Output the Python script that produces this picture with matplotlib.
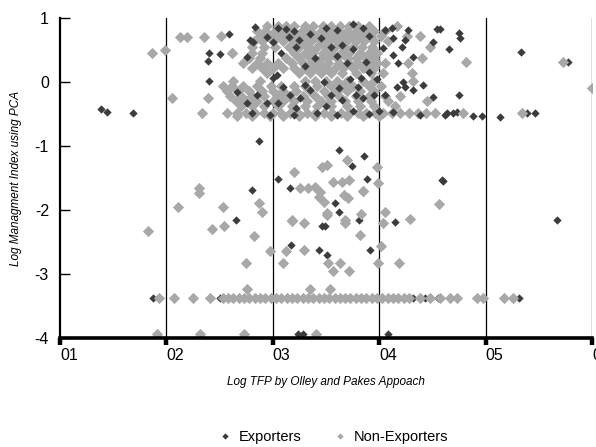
import matplotlib
matplotlib.use('Agg')
import matplotlib.pyplot as plt
from matplotlib.lines import Line2D

# Colours and fonts
#-----------------------------------------------------------------------------#
col_exp = '#3c3c3c'
col_non = '#a8a8a8'
plt.rcParams['font.family'] = ['Liberation Sans', 'DejaVu Sans']
plt.rcParams['axes.unicode_minus'] = False

# Exporters (sparse points)
#-----------------------------------------------------------------------------#
exp_x = [1.385, 1.44, 1.69,
         2.83, 2.59, 2.81, 2.40, 2.50, 2.39, 2.40, 2.87,
         3.05, 3.16, 2.80, 2.65, 3.17, 1.87, 2.50, 3.24,
         4.60, 3.58, 3.62, 3.81, 3.46, 3.49, 4.15, 5.67, 3.43, 3.51, 3.91,
         4.32, 4.43, 4.55, 5.31, 3.28, 4.08,
         3.62, 3.86, 3.74, 3.89, 4.59]
exp_y = [-0.42, -0.47, -0.48,
         0.86, 0.75, 0.63, 0.45, 0.44, 0.33, 0.02, -0.92,
         -1.52, -1.66, -1.69, -2.16, -2.55, -3.38, -3.38, -3.94,
         -1.55, -1.89, -2.03, -2.16, -2.25, -2.25, -2.19, -2.16, -2.63, -2.70, -2.63,
         -3.38, -3.38, -3.38, -3.38, -3.94, -3.94,
         -1.06, -1.16, -1.31, -1.52, -1.53]

# Exporters (dense cluster)
#-----------------------------------------------------------------------------#
exp_dx = [4.27, 4.54, 4.57, 4.75, 4.76, 4.66, 5.33, 5.77, 4.75, 4.51, 4.21,
          4.32, 4.18, 4.22, 4.17, 4.32, 4.41, 4.51, 4.05, 4.64, 4.69, 4.88,
          4.97, 5.14, 5.39, 5.46, 4.05, 4.12, 4.24, 4.13, 4.04, 4.13, 4.24,
          4.73, 4.62, 4.13, 4.38,
          3.05, 3.12, 3.20, 3.15, 3.25, 3.22, 3.35, 3.50, 3.60, 3.75, 3.85,
          3.55, 3.65, 3.75, 3.00, 3.08, 3.40, 3.60, 3.88, 3.90, 3.83, 3.73,
          3.80, 3.98, 3.04, 3.45, 3.90, 3.70, 3.30, 2.95,
          3.16, 3.26, 3.35, 3.55, 3.65, 3.78, 3.85, 3.95, 3.05, 3.22, 3.50,
          3.42, 3.60, 2.97, 3.75, 3.90, 3.30, 3.10, 2.85, 2.66, 2.76, 2.95,
          2.80, 3.00, 3.48, 3.62, 3.20, 4.00, 2.79, 2.76]
exp_dy = [0.81, 0.83, 0.83, 0.77, 0.69, 0.52, 0.47, 0.31, -0.20, 0.63, 0.55,
          0.39, 0.30, 0.00, -0.08, -0.12, -0.05, -0.23, -0.20, -0.48, -0.48, -0.53,
          -0.53, -0.55, -0.48, -0.48, 0.81, 0.84, 0.66, 0.69, 0.53, 0.42, -0.08,
          -0.47, -0.52, -0.47, -0.52,
          0.85, 0.83, 0.80, 0.70, 0.65, 0.55, 0.75, 0.84, 0.82, 0.90, 0.84,
          0.55, 0.58, 0.52, 0.62, 0.45, 0.38, 0.40, 0.31, 0.16, 0.07, 0.05,
          -0.08, 0.05, 0.11, 0.68, 0.72, 0.30, 0.25, 0.70,
          -0.20, -0.25, -0.13, -0.20, -0.28, -0.20, -0.25, -0.20, -0.33, -0.40, -0.38,
          -0.48, -0.52, -0.52, -0.45, -0.50, -0.05, -0.08, -0.20, -0.16, -0.33, -0.33,
          -0.48, 0.06, 0.00, -0.10, -0.52, -0.45, 0.66, 0.39]

# Non-Exporters (sparse points)
#-----------------------------------------------------------------------------#
non_x = [1.86, 1.99, 2.13, 2.19, 2.35, 2.51, 2.62, 2.05, 2.39, 2.33, 6.00,
         4.82, 5.73, 5.34, 4.79,
         2.31, 2.31, 2.11, 2.53, 2.87, 2.90, 2.54, 2.43, 1.83, 2.82, 2.75,
         2.97, 3.12, 3.10, 3.18, 2.76, 3.35, 3.54,
         1.91, 2.32, 2.73, 3.41,
         3.85, 4.56, 3.29, 3.83, 4.05, 4.04, 4.29, 3.82, 4.02, 3.29, 3.52,
         3.63, 3.99, 4.19, 3.57, 3.72, 3.40, 3.43, 3.67, 3.71, 3.51, 3.68, 3.99,
         3.20, 3.46, 3.51, 3.70, 3.98, 3.57, 3.65, 3.72, 3.26, 3.33, 3.44,
         3.85, 3.48, 3.51, 3.18, 3.68]
non_y = [0.45, 0.50, 0.70, 0.70, 0.70, 0.72, 0.45, -0.25, -0.25, -0.48, -0.10,
         0.31, 0.31, -0.48, -0.48,
         -1.66, -1.73, -1.95, -1.95, -1.89, -2.03, -2.25, -2.30, -2.33, -2.40, -2.83,
         -2.64, -2.64, -2.83, -2.17, -3.24, -3.24, -3.24,
         -3.94, -3.94, -3.94, -3.94,
         -1.71, -1.91, -2.20, -2.06, -2.03, -2.20, -2.14, -2.39, -2.56, -2.63, -2.83,
         -2.83, -2.83, -2.83, -2.95, -2.95, -1.64, -1.80, -1.77, -1.81, -2.05, -2.20, -1.58,
         -1.41, -1.33, -1.30, -1.22, -1.33, -1.56, -1.56, -1.53, -1.66, -1.66, -1.72,
         -1.70, -1.87, -2.08, -2.16, -2.16]

# Non-Exporters on the lower band (y = -3.38)
#-----------------------------------------------------------------------------#
band_y = -3.38
band_x = [1.93, 2.07, 2.25, 2.41,
          2.53, 2.58, 2.63, 2.68, 2.73, 2.78, 2.83, 2.88, 2.93, 2.98, 3.03,
          3.08, 3.13, 3.18, 3.23, 3.28, 3.33, 3.38, 3.43, 3.48, 3.53, 3.58,
          3.63, 3.68, 3.73, 3.78, 3.83, 3.88, 3.93, 3.98, 4.03, 4.08, 4.13,
          4.18, 4.23, 4.28, 4.38, 4.48, 4.57, 4.67, 4.73, 4.92, 4.98, 5.17, 5.26]

# Non-Exporters (dense cluster, by row)
#-----------------------------------------------------------------------------#
non_rows = [
    (0.88,  [2.95, 3.05, 3.12, 3.20, 3.30, 3.38, 3.47, 3.55, 3.63, 3.72, 3.80, 3.90, 4.17]),
    (0.80,  [2.85, 2.93, 3.02, 3.10, 3.18, 3.27, 3.35, 3.45, 3.53, 3.62, 3.70, 3.78, 3.87, 3.95, 4.05]),
    (0.72,  [2.88, 2.97, 3.05, 3.13, 3.22, 3.30, 3.40, 3.48, 3.57, 3.65, 3.74, 3.83, 3.92, 4.02, 4.26, 4.38]),
    (0.64,  [2.82, 2.90, 3.00, 3.10, 3.20, 3.28, 3.36, 3.45, 3.53, 3.60, 3.70, 3.78, 3.86, 3.95, 4.08]),
    (0.55,  [2.80, 2.92, 3.02, 3.15, 3.25, 3.33, 3.42, 3.50, 3.58, 3.67, 3.75, 3.84, 3.93, 4.48]),
    (0.46,  [2.62, 2.80, 2.90, 3.20, 3.30, 3.38, 3.47, 3.55, 3.64, 3.72, 3.82, 3.90, 3.98]),
    (0.38,  [2.78, 2.88, 3.12, 3.25, 3.35, 3.45, 3.52, 3.60, 3.70, 3.78, 3.87, 3.95, 4.40]),
    (0.30,  [2.72, 2.85, 2.95, 3.05, 3.18, 3.28, 3.36, 3.44, 3.52, 3.62, 3.72, 3.80, 3.90, 3.98, 4.05, 4.27]),
    (0.22,  [2.80, 2.90, 3.00, 3.10, 3.20, 3.30, 3.40, 3.50, 3.58, 3.66, 3.75, 3.85, 3.95]),
    (0.14,  [2.95, 3.25, 3.35, 3.45, 3.55, 3.65, 3.78, 3.92, 4.04, 4.31]),
    (0.02,  [2.63, 2.88, 3.30, 3.40, 3.50, 3.60, 3.70, 3.85, 3.95, 4.32]),
    (-0.06, [2.53, 2.62, 2.72, 2.85, 2.98, 3.08, 3.20, 3.30, 3.42, 3.55, 3.65, 3.75, 3.90, 4.02]),
    (-0.14, [2.57, 2.67, 2.78, 2.90, 3.00, 3.10, 3.22, 3.35, 3.48, 3.60, 3.70, 3.82, 3.95]),
    (-0.22, [2.60, 2.70, 2.80, 2.92, 3.05, 3.15, 3.28, 3.40, 3.52, 3.62, 3.78, 3.90, 4.05, 4.20]),
    (-0.30, [2.65, 2.75, 2.85, 3.00, 3.10, 3.20, 3.32, 3.45, 3.55, 3.68, 3.80, 3.92, 4.08, 4.45]),
    (-0.38, [2.70, 2.80, 2.92, 3.05, 3.18, 3.30, 3.42, 3.55, 3.70, 3.82, 3.95, 4.15]),
    (-0.48, [2.57, 2.66, 2.75, 2.83, 2.92, 3.00, 3.08, 3.16, 3.24, 3.32, 3.40, 3.48,
             3.56, 3.64, 3.72, 3.80, 3.88, 3.96, 4.04, 4.12, 4.20, 4.28, 4.36, 4.44, 4.52]),
    (-0.53, [2.66, 2.80, 2.97, 3.10, 3.25, 3.40, 3.55, 3.70, 3.85, 4.00]),
]

# Axis ticks
#-----------------------------------------------------------------------------#
x_ticks  = [1, 2, 3, 4, 5, 6]
x_labels = ['01', '02', '03', '04', '05', '06']
y_ticks  = [-4, -3, -2, -1, 0, 1]

# Figure
#-----------------------------------------------------------------------------#
fig = plt.figure(figsize=(5.96, 4.47), dpi=100)
ax  = fig.add_axes([60/596, 1-338/447, 532/596, 320/447])

s_non, s_exp = 33, 18
for y, xs in non_rows:
    ax.scatter(xs, [y]*len(xs), marker='D', s=s_non, color=col_non,
               linewidths=0, zorder=2)
ax.scatter(exp_dx, exp_dy, marker='D', s=s_exp, color=col_exp, linewidths=0, zorder=3)
ax.scatter(exp_x, exp_y, marker='D', s=s_exp, color=col_exp, linewidths=0, zorder=3)
ax.scatter(non_x, non_y, marker='D', s=s_non, color=col_non, linewidths=0, zorder=4)
ax.scatter(band_x, [band_y]*len(band_x), marker='D', s=s_non, color=col_non,
           linewidths=0, zorder=4)

ax.set_xlim(1, 6)
ax.set_ylim(-4, 1)

# Grid and spines
#-----------------------------------------------------------------------------#
for xv in x_ticks[1:]:
    ax.axvline(xv, color='black', linewidth=0.9, zorder=1)
ax.spines['top'].set_visible(False)
ax.spines['right'].set_visible(False)
ax.spines['bottom'].set_linewidth(2.6)
ax.spines['left'].set_linewidth(1.6)
ax.spines['bottom'].set_zorder(6)

ax.set_xticks(x_ticks, labels=x_labels)
ax.set_yticks(y_ticks)
ax.tick_params(axis='x', direction='out', length=5, width=3.2, pad=2, labelsize=11.5)
ax.tick_params(axis='y', direction='in', length=7, width=1.0, pad=8, labelsize=11.5)
for lab in ax.get_xticklabels():
    lab.set_horizontalalignment('left')
    lab.set_clip_on(False)

ax.set_xlabel('Log TFP by Olley and Pakes Appoach', fontsize=8.5, style='italic')
ax.set_ylabel('Log Managment Index using PCA', fontsize=8.5, style='italic')
ax.xaxis.set_label_coords(0.5, -0.12)
ax.yaxis.set_label_coords(-0.072, 0.5)

# Legend
#-----------------------------------------------------------------------------#
handles = [Line2D([], [], marker='D', linestyle='none', color=col_exp, markersize=3.2,
                  markeredgewidth=0, label='Exporters'),
           Line2D([], [], marker='D', linestyle='none', color=col_non, markersize=3.2,
                  markeredgewidth=0, label='Non-Exporters')]
fig.legend(handles=handles, loc='center', bbox_to_anchor=(333/596, 1-437/447), ncol=2,
           frameon=False, fontsize=10.5, handletextpad=0.4, columnspacing=2.2,
           handlelength=1.0)

fig.savefig('out.png', dpi=100)
